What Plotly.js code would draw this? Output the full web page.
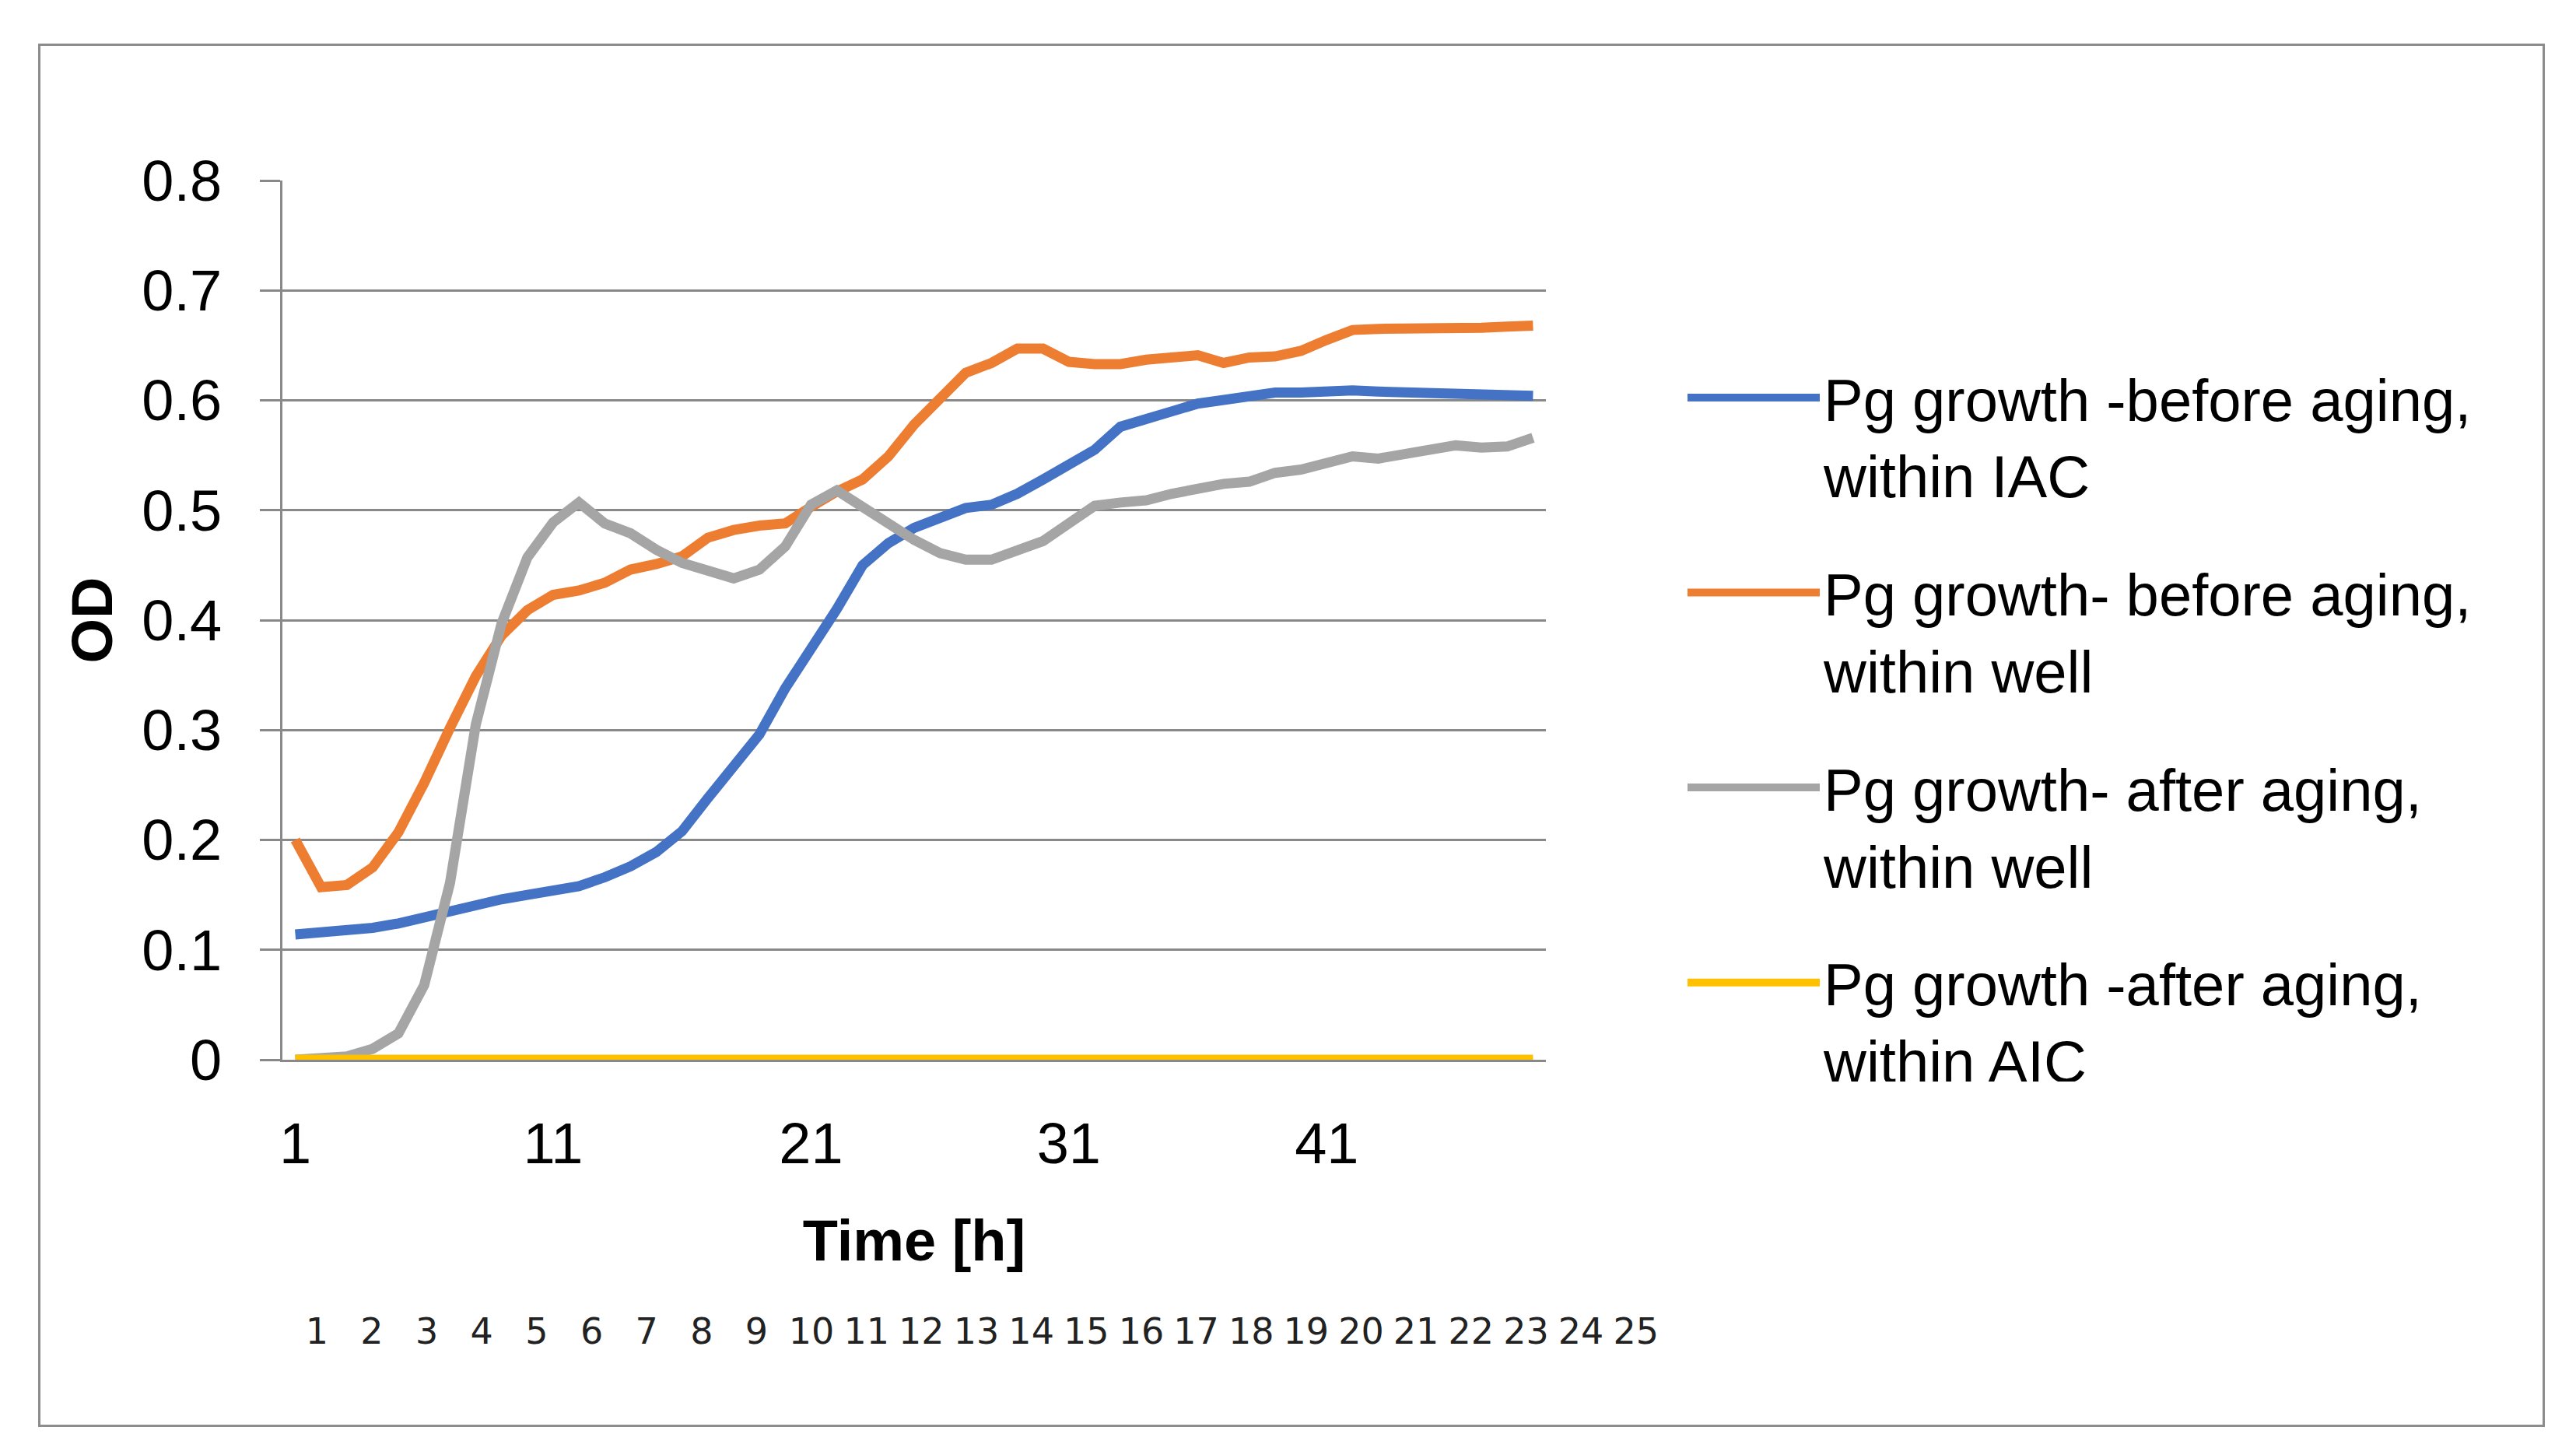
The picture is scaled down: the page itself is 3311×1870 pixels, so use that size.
<!DOCTYPE html>
<html>
<head>
<meta charset="utf-8">
<script src="https://cdn.plot.ly/plotly-3.0.1.min.js"></script>
<style>
html,body{margin:0;padding:0;background:#ffffff;}
#chart{width:3311px;height:1870px;}
#frame{position:absolute;left:49px;top:56px;width:3216px;height:1772px;border:3px solid #8c8c8c;pointer-events:none;}
</style>
</head>
<body>
<div id="chart"></div>
<div id="frame"></div>
<script>
// ---------- data ----------
const hours = [1,2,3,4,5,6,7,8,9,10,11,12,13,14,15,16,17,18,19,20,21,22,23,24,25,
  26,27,28,29,30,31,32,33,34,35,36,37,38,39,40,41,42,43,44,45,46,47,48,49];

const beforeAgingIAC = [0.114,0.116,0.117,0.120,0.124,0.130,0.135,0.142,0.146,0.150,
  0.155,0.158,0.166,0.176,0.189,0.208,0.238,0.266,0.296,0.338,
  0.373,0.410,0.450,0.470,0.484,0.492,0.502,0.505,0.515,0.528,
  0.541,0.555,0.576,0.584,0.590,0.597,0.600,0.603,0.607,0.607,
  0.609,0.609,0.608,0.607,0.608,0.606,0.605,0.605,0.604];

const beforeAgingWell = [0.200,0.157,0.159,0.175,0.207,0.252,0.302,0.349,0.386,0.409,
  0.423,0.427,0.434,0.446,0.451,0.458,0.475,0.482,0.486,0.488,
  0.503,0.517,0.528,0.549,0.578,0.600,0.625,0.634,0.647,0.647,
  0.635,0.633,0.633,0.637,0.638,0.641,0.634,0.639,0.640,0.645,
  0.655,0.664,0.665,0.665,0.664,0.666,0.666,0.667,0.668];

const afterAgingWell = [0.000,0.001,0.003,0.010,0.024,0.068,0.161,0.305,0.397,0.457,
  0.489,0.507,0.488,0.479,0.464,0.452,0.444,0.438,0.446,0.467,
  0.505,0.518,0.503,0.488,0.473,0.461,0.455,0.455,0.463,0.472,
  0.488,0.504,0.507,0.509,0.515,0.520,0.524,0.526,0.534,0.537,
  0.542,0.549,0.547,0.551,0.556,0.559,0.557,0.558,0.566];

const afterAgingAIC = [0,0,0,0,0,0,0,0,0,0,0,0,0,0,0,0,0,0,0,0,0,0,0,0,0,
  0,0,0,0,0,0,0,0,0,0,0,0,0,0,0,0,0,0,0,0,0,0,0,0];

const seriesNames = [
  "Pg growth -before aging,<br>within IAC",
  "Pg growth- before aging,<br>within well",
  "Pg growth- after aging,<br>within well",
  "Pg growth -after aging,<br>within AIC"
];
const seriesColors = ["#4472C4", "#ED7D31", "#A5A5A5", "#FFC000"];

const xTickVals = [1, 11, 21, 31, 41];
const yTickVals = [0, 0.1, 0.2, 0.3, 0.4, 0.5, 0.6, 0.7, 0.8];
const yTickText = ["0", "0.1", "0.2", "0.3", "0.4", "0.5", "0.6", "0.7", "0.8"];
const secondRowLabels = [1,2,3,4,5,6,7,8,9,10,11,12,13,14,15,16,17,18,19,20,21,22,23,24,25];

const xTitle = "Time [h]";
const yTitle = "OD";

// ---------- layout geometry ----------
const W = 3311, H = 1870;
const plotL = 363, plotR = 2138, plotT = 232, plotB = 1680;
const axisBottom = 1362, axisRight = 1987, secondRowLeft = 372;
const FONT = "Liberation Sans, Arial, sans-serif";
const GRID = "#898989";

const seriesValues = [beforeAgingIAC, beforeAgingWell, afterAgingWell, afterAgingAIC];
const traces = seriesValues.map((vals, i) => ({
  type: "scatter",
  mode: "lines",
  x: hours,
  y: vals,
  xaxis: "x",
  yaxis: "y",
  name: seriesNames[i] + (i === seriesValues.length - 1 ? "<br> " : ""),
  legendgroup: "g" + i,
  line: { color: seriesColors[i], width: 13 },
  hoverinfo: "x+y",
  cliponaxis: false
}));

// carrier for the second row of category labels (drawn invisibly on its own axes)
traces.push({
  type: "scatter",
  mode: "markers",
  x: secondRowLabels,
  y: secondRowLabels,
  xaxis: "x2",
  yaxis: "y2",
  marker: { opacity: 0, size: 1 },
  showlegend: false,
  hoverinfo: "skip"
});

const layout = {
  width: W,
  height: H,
  paper_bgcolor: "#ffffff",
  plot_bgcolor: "rgba(0,0,0,0)",
  margin: { l: plotL, r: W - plotR, t: plotT, b: H - plotB, pad: 0 },
  font: { family: FONT, color: "#000000" },
  showlegend: true,
  xaxis: {
    domain: [0, (axisRight - plotL) / (plotR - plotL)],
    anchor: "y",
    range: [0.5, 49.5],
    tickmode: "array",
    tickvals: xTickVals,
    ticktext: xTickVals.map(String),
    showgrid: false,
    zeroline: false,
    showline: true,
    linecolor: GRID,
    linewidth: 3,
    ticks: "",
    ticklabelstandoff: 41,
    tickfont: { family: FONT, size: 74, color: "#000000" },
    title: { text: xTitle, font: { family: FONT, size: 74, color: "#000000", weight: "bold" }, standoff: 59 }
  },
  yaxis: {
    domain: [(plotB - axisBottom) / (plotB - plotT), 1],
    anchor: "x",
    range: [0, 0.8],
    tickmode: "array",
    tickvals: yTickVals,
    ticktext: yTickText,
    showgrid: true,
    gridcolor: GRID,
    gridwidth: 3,
    zeroline: false,
    showline: true,
    linecolor: GRID,
    linewidth: 3,
    ticks: "outside",
    ticklen: 26,
    tickwidth: 3,
    tickcolor: GRID,
    ticklabelstandoff: 34,
    tickfont: { family: FONT, size: 74, color: "#000000" },
    title: { text: yTitle, font: { family: FONT, size: 74, color: "#000000", weight: "bold" }, standoff: 14 }
  },
  xaxis2: {
    domain: [(secondRowLeft - plotL) / (plotR - plotL), 1],
    anchor: "free",
    position: 0,
    range: [0.5, 25.5],
    tickmode: "array",
    tickvals: secondRowLabels,
    ticktext: secondRowLabels.map(String),
    showgrid: false,
    zeroline: false,
    showline: false,
    ticks: "",
    tickfont: { family: "DejaVu Sans, sans-serif", size: 46, color: "#222222" },
    fixedrange: true
  },
  yaxis2: {
    domain: [0, 0.05],
    anchor: "x2",
    range: [100, 200],
    visible: false,
    showgrid: false,
    zeroline: false,
    fixedrange: true
  },
  legend: {
    xref: "container",
    yref: "container",
    x: 2164 / W,
    y: 1 - 455 / H,
    xanchor: "left",
    yanchor: "top",
    valign: "top",
    itemwidth: 170,
    tracegroupgap: 50,
    bgcolor: "rgba(0,0,0,0)",
    borderwidth: 0,
    font: { family: FONT, size: 76, color: "#000000" }
  }
};

Plotly.newPlot("chart", traces, layout, { displayModeBar: false, staticPlot: true });
</script>
</body>
</html>
